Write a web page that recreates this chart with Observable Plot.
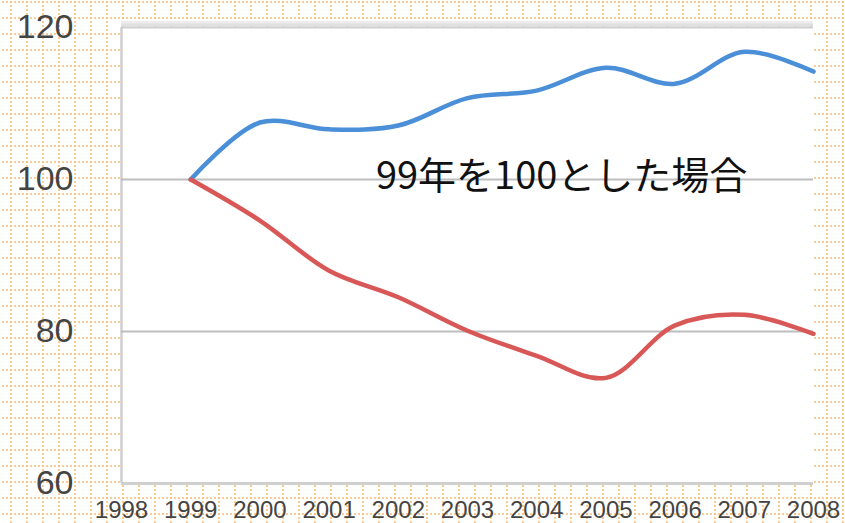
<!DOCTYPE html>
<html>
<head>
<meta charset="utf-8">
<script src="https://cdn.jsdelivr.net/npm/d3@7"></script>
<script src="https://cdn.jsdelivr.net/npm/@observablehq/plot@0.6"></script>
<style>
html, body { margin: 0; padding: 0; }
body {
  width: 845px; height: 523px; overflow: hidden;
  background-color: #ffffff;
  background-image: url("data:image/svg+xml,%3Csvg xmlns='http://www.w3.org/2000/svg' width='16' height='16'%3E%3Cline x1='0' y1='1' x2='16' y2='1' stroke='%23f8bd72' stroke-width='1.6' stroke-dasharray='2 2'/%3E%3Cline x1='1' y1='0' x2='1' y2='16' stroke='%23f8bd72' stroke-width='1.6' stroke-dasharray='2 2'/%3E%3C/svg%3E");
  background-position: 10px 1px;
}
</style>
</head>
<body>
<div id="chart"></div>
<script>
// Data
const years = [1999, 2000, 2001, 2002, 2003, 2004, 2005, 2006, 2007, 2008];
const blueSeries = [100, 107.5, 106.6, 107.1, 110.7, 111.7, 114.7, 112.6, 116.8, 114.2];
const redSeries  = [100, 94.6, 88.0, 84.5, 80.1, 76.8, 73.9, 80.8, 82.2, 79.7];
const xTicks = [1998, 1999, 2000, 2001, 2002, 2003, 2004, 2005, 2006, 2007, 2008];
const yTicks = [60, 80, 100, 120];
const gridValues = [80, 100];
const noteText = ["99年を100とした場合"];
const noteX = [2004.36];
const noteY = [100.3];

const blueData = years.map((year, i) => ({year, value: blueSeries[i]}));
const redData = years.map((year, i) => ({year, value: redSeries[i]}));
const noteData = noteText.map((t, i) => ({t, x: noteX[i], y: noteY[i]}));

const chart = Plot.plot({
  width: 845,
  height: 523,
  marginLeft: 121,
  marginRight: 32,
  marginTop: 27,
  marginBottom: 40,
  style: {background: "transparent", fontFamily: "'Liberation Sans', Arial, sans-serif"},
  x: {domain: [1998, 2008], axis: null},
  y: {domain: [60, 120], axis: null},
  marks: [
    Plot.frame({fill: "white", stroke: "none"}),
    // top shadow
    Plot.ruleY([120], {stroke: "#ededed", strokeWidth: 3, dy: -5}),
    Plot.ruleY([120], {stroke: "#e0e0e0", strokeWidth: 3, dy: -2.5}),
    Plot.ruleY([120], {stroke: "#cfcfcf", strokeWidth: 2}),
    Plot.ruleY([60], {stroke: "#cfcfcf", strokeWidth: 3}),
    Plot.ruleX([1998], {stroke: "#cfcfcf", strokeWidth: 2.5}),
    Plot.ruleY(gridValues, {stroke: "#bdbdbd", strokeWidth: 2}),
    Plot.line(blueData, {x: "year", y: "value", stroke: "#4a8fd7", strokeWidth: 4.5, curve: "catmull-rom"}),
    Plot.line(redData, {x: "year", y: "value", stroke: "#d85858", strokeWidth: 4.5, curve: "catmull-rom"}),
    Plot.text(noteData, {x: "x", y: "y", text: "t", fontSize: 38, fill: "#111", fontFamily: "'Noto Sans CJK JP', sans-serif", textAnchor: "middle", lineAnchor: "middle"}),
    Plot.axisY(yTicks, {tickSize: 0, tickPadding: 48, fontSize: 34, color: "#444"}),
    Plot.axisX(xTicks, {tickSize: 0, tickPadding: 17, fontSize: 24, color: "#444", tickFormat: d => String(d)})
  ]
});
document.getElementById("chart").appendChild(chart);
</script>
</body>
</html>
